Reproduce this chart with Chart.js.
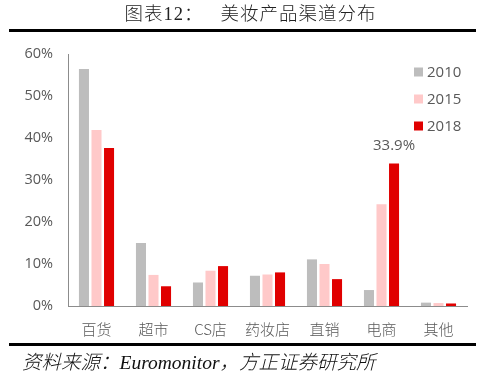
<!DOCTYPE html>
<html><head><meta charset="utf-8">
<script src="https://cdn.jsdelivr.net/npm/chart.js@4.4.1/dist/chart.umd.min.js"></script>
<style>
html,body{margin:0;padding:0;background:#fff;}
#wrap{position:relative;width:479px;height:379px;overflow:hidden;}
#c{position:absolute;left:0;top:0;}
#title{position:absolute;left:11px;top:2px;width:479px;text-align:center;font-family:"Liberation Serif","Noto Sans CJK SC";font-weight:300;font-size:18.5px;color:#222;letter-spacing:1px;line-height:24px;}
#line1{position:absolute;left:9px;top:29px;width:467px;height:3px;background:#000;}
#line2{position:absolute;left:9px;top:343px;width:467px;height:3px;background:#000;}
#foot{position:absolute;left:22px;top:350px;font-family:"Liberation Serif","Noto Sans CJK SC";font-weight:300;font-style:italic;font-size:19.5px;color:#111;line-height:26px;}
</style></head>
<body><div id="wrap">
<canvas id="c" width="479" height="379"></canvas>
<div id="title">图表12：&nbsp;&nbsp;&nbsp;美妆产品渠道分布</div>
<div id="line1"></div>
<div id="line2"></div>
<div id="foot">资料来源：Euromonitor，方正证券研究所</div>
</div>
<script>
const categories = ["百货","超市","CS店","药妆店","直销","电商","其他"];
const seriesNames = ["2010","2015","2018"];
const s2010 = [56.4, 15.0, 5.6, 7.2, 11.1, 3.8, 0.8];
const s2015 = [41.9, 7.4, 8.4, 7.5, 10.0, 24.2, 0.7];
const s2018 = [37.6, 4.7, 9.5, 8.0, 6.4, 33.9, 0.6];
const yTicks = [0,10,20,30,40,50,60];
const colors = ["#BDBDBD","#FFC9C9","#E00000"];
const labelledPoint = {dataset:2, index:5, text:"33.9%"};

const legendPlugin = {
  id:'customLegend',
  afterDraw(chart){
    const ctx = chart.ctx;
    ctx.save();
    ctx.font = '15px "Open Sans", "DejaVu Sans", sans-serif';
    ctx.textBaseline = 'middle';
    chart.data.datasets.forEach((ds,i)=>{
      const y = 72 + i*27;
      ctx.fillStyle = ds.backgroundColor;
      ctx.fillRect(414, y-4.5, 9, 9);
      ctx.fillStyle = '#595959';
      ctx.fillText(ds.label, 427, y+1);
    });
    ctx.restore();
  }
};
const labelPlugin = {
  id:'pointLabel',
  afterDatasetsDraw(chart){
    const meta = chart.getDatasetMeta(labelledPoint.dataset);
    const el = meta.data[labelledPoint.index];
    const ctx = chart.ctx;
    ctx.save();
    ctx.font = '15px "Open Sans", "DejaVu Sans", sans-serif';
    ctx.fillStyle = '#595959';
    ctx.textAlign = 'center';
    ctx.textBaseline = 'middle';
    ctx.fillText(labelledPoint.text, el.x, el.y - 18);
    ctx.restore();
  }
};

new Chart(document.getElementById('c'), {
  type:'bar',
  data:{
    labels:categories,
    datasets:[s2010,s2015,s2018].map((d,i)=>({
      label:seriesNames[i], data:d, backgroundColor:colors[i],
      categoryPercentage:0.66, barPercentage:0.8
    }))
  },
  options:{
    responsive:false, animation:false,
    layout:{padding:{top:54,right:12,left:0,bottom:0}},
    plugins:{legend:{display:false},tooltip:{enabled:false}},
    scales:{
      x:{
        grid:{display:false},
        border:{display:true,color:'#8c8c8c',width:1},
        ticks:{color:'#595959',font:{family:'"Noto Sans CJK SC"',size:15,weight:300},padding:6},
        afterFit(s){s.height = 73;}
      },
      y:{
        min:0,max:60,
        grid:{display:false},
        border:{display:true,color:'#8c8c8c',width:1},
        afterBuildTicks(s){s.ticks = yTicks.map(v=>({value:v}));},
        ticks:{color:'#595959',font:{family:'"Open Sans", "DejaVu Sans", sans-serif',size:14.5},padding:7,
          callback:v=>v+'%'},
        afterFit(s){s.width = 68;}
      }
    }
  },
  plugins:[legendPlugin,labelPlugin]
});
</script>
</body></html>
